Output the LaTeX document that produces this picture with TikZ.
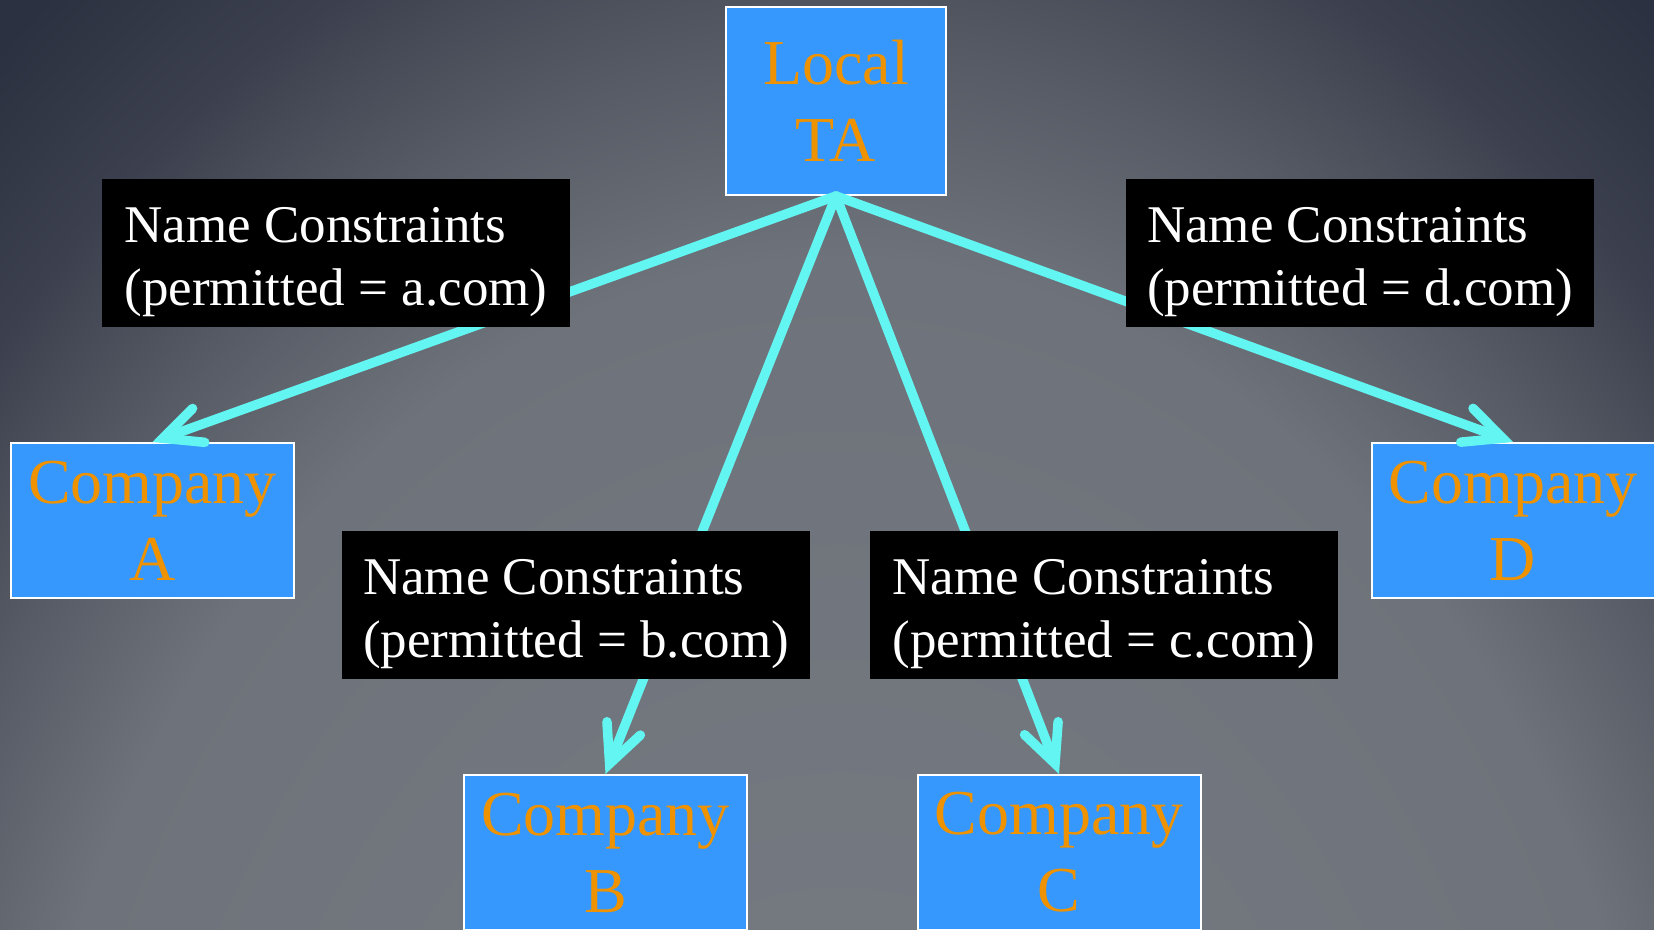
\documentclass[tikz,border=0pt]{standalone}
\usepackage{fontspec}
\setmainfont{Liberation Serif}
\usetikzlibrary{arrows.meta}
\definecolor{slideblue}{HTML}{3698FD}
\definecolor{slideorange}{HTML}{EF9200}
\definecolor{linkcyan}{HTML}{62F5F1}
\definecolor{bgcore}{HTML}{787C83}
\definecolor{bgmid}{HTML}{6E727A}
\definecolor{bgrim}{HTML}{575B65}
\definecolor{bgouter}{HTML}{484C58}
\definecolor{bgedge}{HTML}{3C404E}
\definecolor{bgcorner}{HTML}{2B3140}
% soft glow rising from below the slide
\pgfdeclareradialshading{slideglow}{\pgfpoint{0bp}{0bp}}{%
  color(0bp)=(bgcore); color(19bp)=(bgmid); color(22.5bp)=(bgrim);
  color(24.5bp)=(bgouter); color(26bp)=(bgedge); color(29.5bp)=(bgcorner);
  color(50bp)=(bgcorner)}
\tikzset{
  entitybox/.style={
    rectangle, draw=white, line width=2pt, fill=slideblue,
    text=slideorange, font=\fontsize{64}{77}\selectfont, align=center,
    inner sep=0pt, minimum width=283pt, minimum height=155pt
  },
  constraintbox/.style={
    rectangle, fill=black, text=white,
    font=\fontsize{53}{63}\selectfont, align=left,
    inner sep=0pt, minimum width=468pt, minimum height=148pt,
    execute at begin node=\rule{0pt}{116pt}
  },
  linkarrow/.style={
    -{Straight Barb[length=38pt, width=36pt, line cap=round]},
    line width=9.5pt, color=linkcyan, line cap=round
  },
}
\begin{document}
\begin{tikzpicture}[x=1pt, y=-1pt]
  \useasboundingbox (0,0) rectangle (1654,929);
  \begin{scope}
    \clip (0,0) rectangle (1654,929);
    \shade[shading=slideglow] (-260,-100) rectangle (1940,2900);
  \end{scope}

  % trust anchor and the companies under it
  \node[entitybox, minimum width=220pt, minimum height=188pt] (ta) at (836,101) {Local\\TA};
  \node[entitybox] (compA) at (152.5,520.5) {Company\\A};
  \node[entitybox] (compB) at (605.5,852.5) {Company\\B};
  \node[entitybox] (compC) at (1059,852.5) {Company\\C};
  \node[entitybox] (compD) at (1513,520.5) {Company\\D};

  \foreach \co in {compA,compB,compC,compD} { \draw[linkarrow] (ta.south) -- (\co.north); }

  % constraint labels sit on top of the links
  \node[constraintbox] (ncA) at (336,253) {Name Constraints\\(permitted = a.com)};
  \node[constraintbox] (ncB) at (576,605) {Name Constraints\\(permitted = b.com)};
  \node[constraintbox] (ncC) at (1104,605) {Name Constraints\\(permitted = c.com)};
  \node[constraintbox] (ncD) at (1360,253) {Name Constraints\\(permitted = d.com)};
\end{tikzpicture}
\end{document}
